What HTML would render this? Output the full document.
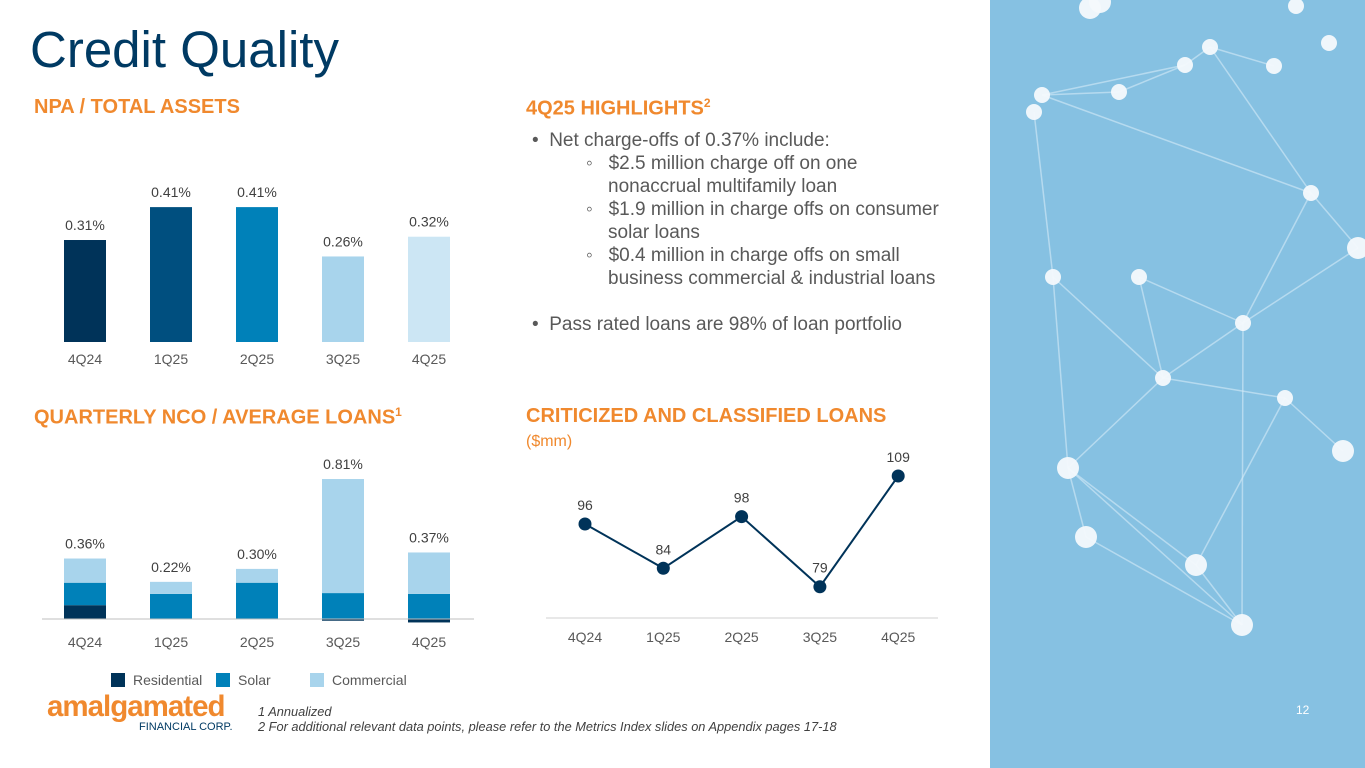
<!DOCTYPE html>
<html><head><meta charset="utf-8"><style>
body{margin:0;width:1365px;height:768px;position:relative;background:#fff;font-family:"Liberation Sans",sans-serif;overflow:hidden}
.abs{position:absolute}
.h{color:#f0892e;font-weight:bold;font-size:20px}
.hl{font-size:19px;color:#595959;line-height:23px}
</style></head><body>
<div class="abs" style="left:30px;top:20px;font-size:51px;color:#003a63">Credit Quality</div>
<div class="abs h" style="left:34px;top:96px">NPA / TOTAL ASSETS</div>
<div class="abs h" style="left:34px;top:405px">QUARTERLY NCO / AVERAGE LOANS<sup style="font-size:12px">1</sup></div>
<div class="abs h" style="left:526px;top:96px">4Q25 HIGHLIGHTS<sup style="font-size:12px">2</sup></div>
<div class="abs h" style="left:526px;top:405px">CRITICIZED AND CLASSIFIED LOANS</div>
<div class="abs" style="left:526px;top:433px;font-size:16px;color:#f0892e">($mm)</div>
<div class="abs hl" style="left:532px;top:129px;width:418px">
<div>•&nbsp;&nbsp;Net charge-offs of 0.37% include:</div>
<div style="padding-left:76px;text-indent:-22px">◦&nbsp;&nbsp; $2.5 million charge off on one nonaccrual multifamily loan</div>
<div style="padding-left:76px;text-indent:-22px">◦&nbsp;&nbsp; $1.9 million in charge offs on consumer solar loans</div>
<div style="padding-left:76px;text-indent:-22px">◦&nbsp;&nbsp; $0.4 million in charge offs on small business commercial &amp; industrial loans</div>
<div style="margin-top:23px">•&nbsp;&nbsp;Pass rated loans are 98% of loan portfolio</div>
</div>
<svg class="abs" style="left:0;top:0" width="990" height="768" id="charts"></svg>
<div class="abs" style="left:47px;top:693px">
<div style="color:#f0892e;font-weight:bold;font-size:29.5px;letter-spacing:-1px;line-height:28px">amalgamated</div>
<div style="color:#003a63;font-size:11px;margin-left:92px">FINANCIAL CORP.</div></div>
<div class="abs" style="left:258px;top:704px;font-size:12.8px;font-style:italic;color:#404040;line-height:15px">1 Annualized<br>2 For additional relevant data points, please refer to the Metrics Index slides on Appendix pages 17-18</div>
<svg class="abs" style="left:990px;top:0" width="375" height="768" id="bg"></svg>
<div class="abs" style="left:1296px;top:703px;color:#fff;font-size:12px">12</div>
<script>
const NS="http://www.w3.org/2000/svg";
const cats=["4Q24","1Q25","2Q25","3Q25","4Q25"];
const npaVals=[0.31,0.41,0.41,0.26,0.32];
const npaLabels=["0.31%","0.41%","0.41%","0.26%","0.32%"];
const ncoResidential=[0.08,0.00,0.00,-0.01,-0.02];
const ncoSolar=[0.13,0.145,0.21,0.15,0.145];
const ncoCommercial=[0.14,0.07,0.08,0.66,0.24];
const ncoLabels=["0.36%","0.22%","0.30%","0.81%","0.37%"];
const ccVals=[96,84,98,79,109];
function mk(p,t,a,txt){const e=document.createElementNS(NS,t);for(const k in a)e.setAttribute(k,a[k]);if(txt!==undefined)e.textContent=txt;p.appendChild(e);return e;}
const svg=document.getElementById('charts');
const bx=i=>85+i*86;
const npaY=v=>342-v*329;
const npaCol=["#003359","#004f7f","#0081b9","#a8d4ec","#cce6f4"];
npaVals.forEach((v,i)=>{
 const r=mk(svg,'rect',{x:bx(i)-21,y:npaY(v),width:42,height:342-npaY(v),fill:npaCol[i]});
 
 
 const t=mk(svg,'text',{x:bx(i),y:npaY(v)-10,'text-anchor':'middle','font-size':14,fill:'#404040'},npaLabels[i]);
 
 
 const c=mk(svg,'text',{x:bx(i),y:364,'text-anchor':'middle','font-size':14,fill:'#595959'},cats[i]);
 
 
});
const base=619,k=172.8;
ncoResidential.forEach((r,i)=>{
 let pos=0;
 const segs=[[r,'#003359','residential'],[ncoSolar[i],'#0081b9','solar'],[ncoCommercial[i],'#a8d4ec','commercial']];
 segs.forEach(([v,col,n])=>{
  let y0,h;
  if(v<0){y0=base;h=-v*k;}else{y0=base-(pos+v)*k;h=v*k;pos+=v;}
  const e=mk(svg,'rect',{x:bx(i)-21,y:y0,width:42,height:h,fill:col});
  
  
 });
 const t=mk(svg,'text',{x:bx(i),y:base-pos*k-10,'text-anchor':'middle','font-size':14,fill:'#404040'},ncoLabels[i]);
 
 
 const c=mk(svg,'text',{x:bx(i),y:647,'text-anchor':'middle','font-size':14,fill:'#595959'},cats[i]);
 
 
});
const ax=mk(svg,'line',{x1:42,x2:474,y1:base,y2:base,stroke:'#bfbfbf','stroke-width':1});


[['Residential','#003359',111],['Solar','#0081b9',216],['Commercial','#a8d4ec',310]].forEach(([n,c,x])=>{
 const r=mk(svg,'rect',{x:x,y:673,width:14,height:14,fill:c});
 
 
 const t=mk(svg,'text',{x:x+22,y:685,'font-size':14,fill:'#595959'},n);
 
 
});
const lx=i=>585+i*78.3;
const ly=v=>524-(v-96)*3.69;
const a2=mk(svg,'line',{x1:546,x2:938,y1:618,y2:618,stroke:'#d0d0d0','stroke-width':1});


const pl=mk(svg,'polyline',{points:ccVals.map((v,i)=>lx(i)+','+ly(v)).join(' '),fill:'none',stroke:'#003359','stroke-width':2});


ccVals.forEach((v,i)=>{
 const c=mk(svg,'circle',{cx:lx(i),cy:ly(v),r:6.5,fill:'#003359'});
 
 
 const t=mk(svg,'text',{x:lx(i),y:ly(v)-14,'text-anchor':'middle','font-size':14,fill:'#404040'},String(v));
 
 
 const x=mk(svg,'text',{x:lx(i),y:642,'text-anchor':'middle','font-size':14,fill:'#595959'},cats[i]);
 
 
});
const bg=document.getElementById('bg');
mk(bg,'rect',{x:0,y:0,width:375,height:768,fill:'#86c1e2'});
const nodes=[[52,95],[44,112],[129,92],[195,65],[220,47],[284,66],[339,43],[306,6],[321,193],[253,323],[173,378],[295,398],[63,277],[149,277],[78,468],[96,537],[206,565],[252,625],[353,451],[368,248],[110,2],[100,8]];
const edges=[[0,2],[0,3],[1,12],[2,3],[3,4],[4,5],[4,8],[8,9],[8,19],[9,10],[12,10],[13,10],[13,9],[10,11],[10,14],[14,15],[14,16],[14,17],[12,14],[11,18],[9,19],[15,17],[0,8],[11,16],[16,17],[9,17]];
edges.forEach(([a,b])=>mk(bg,'line',{x1:nodes[a][0],y1:nodes[a][1],x2:nodes[b][0],y2:nodes[b][1],stroke:'#d6ecf8','stroke-width':1.5,opacity:0.6}));
nodes.forEach((n,i)=>mk(bg,'circle',{cx:n[0],cy:n[1],r:i>13?11:8,fill:'#f4f9fc',opacity:0.95}));
</script>
</body></html>
